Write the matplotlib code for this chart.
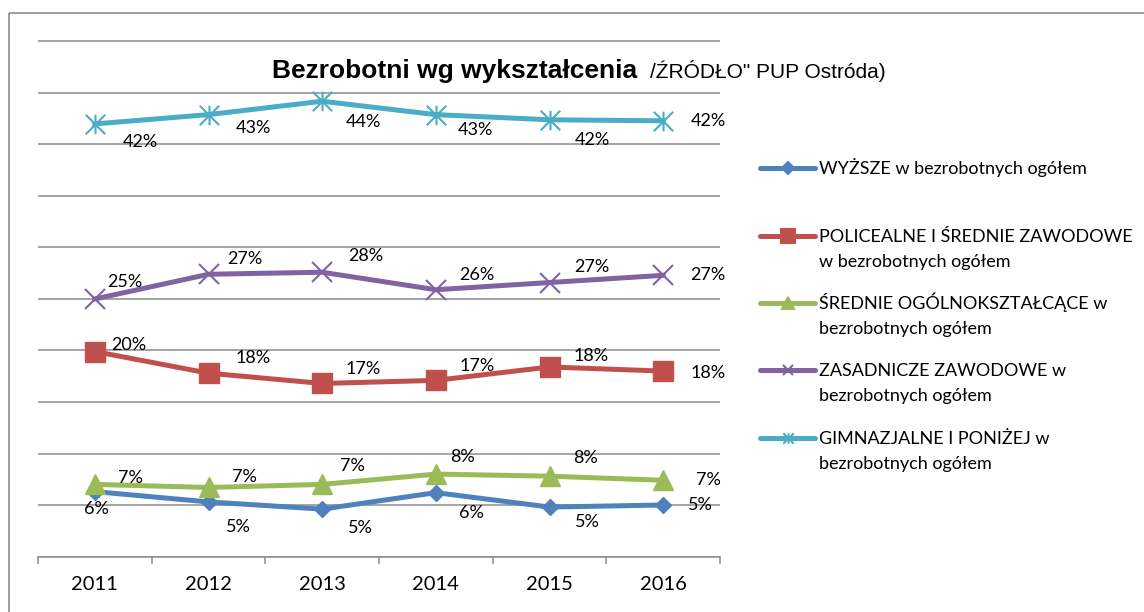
import matplotlib as mpl

mpl.use("Agg")
import matplotlib.pyplot as plt
import numpy as np
from matplotlib.patches import Rectangle
from matplotlib.path import Path

# --- data (% of all unemployed) ---
YEARS = ["2011", "2012", "2013", "2014", "2015", "2016"]
WYZSZE = [6.3, 5.3, 4.6, 6.2, 4.8, 5.0]
POLICEALNE = [19.9, 17.8, 16.8, 17.1, 18.4, 18.0]
SREDNIE_OGOLNE = [7.0, 6.7, 7.0, 8.0, 7.8, 7.4]
ZASADNICZE = [25.0, 27.4, 27.6, 25.9, 26.6, 27.3]
GIMNAZJALNE = [42.0, 42.9, 44.2, 42.9, 42.4, 42.3]

NAMES = [
    ["WYŻSZE w bezrobotnych ogółem"],
    ["POLICEALNE I ŚREDNIE ZAWODOWE", "w bezrobotnych ogółem"],
    ["ŚREDNIE OGÓLNOKSZTAŁCĄCE w", "bezrobotnych ogółem"],
    ["ZASADNICZE ZAWODOWE w", "bezrobotnych ogółem"],
    ["GIMNAZJALNE I PONIŻEJ w", "bezrobotnych ogółem"],
]

TITLE = "Bezrobotni wg wykształcenia"
SUBTITLE = "/ŹRÓDŁO\" PUP Ostróda)"

# --- style ---
W, H = 1144, 612
GRID = "#8c8c8c"
STAR = Path(
    [(-0.5, -0.5), (0.5, 0.5), (-0.5, 0.5), (0.5, -0.5), (0, -0.5), (0, 0.5)],
    [Path.MOVETO, Path.LINETO] * 3,
)
# colour, marker, marker size (plot / legend), filled?
STYLE = [
    ("#4F81BD", "D", 8.5, 6.0, True),
    ("#C0504D", "s", 14, 9.5, True),
    ("#9BBB59", "^", 14, 9.0, True),
    ("#8064A2", "x", 14, 7.5, False),
    ("#4BACC6", STAR, 14, 7.5, False),
]
# label offsets from the point, in pixels (dx right, dy down)
OFFSETS = [
    [(2, 17), (30, 25), (38, 19), (36, 20), (38, 15), (37, 0)],
    [(34, -7), (45, -15), (41, -14), (41, -14), (42, -11), (45, 2)],
    [(36, -6), (36, -10), (30, -18), (27, -17), (36, -18), (45, 0)],
    [(30, -17), (36, -15), (44, -16), (41, -15), (42, -16), (45, 0)],
    [(46, 18), (45, 13), (41, 21), (40, 15), (43, 20), (45, 0)],
]
LEGEND_Y = [167.7, 235.7, 303, 370, 437.7]

plt.rcParams["font.family"] = ["Lato", "DejaVu Sans"]

fig = plt.figure(figsize=(W / 100, H / 100), dpi=100, facecolor="white")

# pixel-space overlay for frame, title and legend
lax = fig.add_axes([0, 0, 1, 1])
lax.set_xlim(0, W)
lax.set_ylim(H, 0)
lax.axis("off")
lax.add_patch(Rectangle((8.5, 13), 1400, 900, fill=False, edgecolor=GRID, lw=1.2))
lax.text(272, 78, TITLE, family="Liberation Sans", weight="bold", fontsize=19, va="baseline")
lax.text(650, 78, SUBTITLE, family="Liberation Sans", fontsize=15, va="baseline")

y0_px, y50_px = 556.5, 41.5
ppp = (y0_px - y50_px) / 50
ymax = 50.5
ax = fig.add_axes([38 / W, 1 - y0_px / H, (720 - 38) / W, (ymax * ppp) / H])
ax.set_facecolor("none")

series = [WYZSZE, POLICEALNE, SREDNIE_OGOLNE, ZASADNICZE, GIMNAZJALNE]
x = np.arange(len(YEARS))
for vals, (col, mk, ms, _, filled), offs in zip(series, STYLE, OFFSETS):
    ax.plot(
        x, vals, color=col, lw=3.6, marker=mk, ms=ms,
        markerfacecolor=col if filled else "none", markeredgecolor=col,
        markeredgewidth=1.0 if filled else 1.5, solid_joinstyle="round",
        clip_on=False, zorder=3,
    )
    for xi, v, (dx, dy) in zip(x, vals, offs):
        ax.annotate(f"{int(v + 0.5)}%", (xi, v), xytext=(dx, -dy), textcoords="offset pixels",
                    ha="center", va="center", fontsize=13, color="black", zorder=4)

ax.set_xlim(-0.5, len(YEARS) - 0.5)
ax.set_ylim(0, ymax)
ax.set_yticks(np.arange(0, 51, 5))
ax.yaxis.grid(True, color=GRID, lw=1.1)
ax.set_axisbelow(True)
ax.tick_params(axis="y", length=0, labelleft=False)
ax.set_xticks(x, YEARS)
ax.set_xticks(np.arange(-0.5, len(YEARS), 1), minor=True)
ax.tick_params(axis="x", which="major", length=0, pad=14, labelsize=14.5, labelcolor="black")
ax.tick_params(axis="x", which="minor", length=5, width=1.1, color=GRID, direction="out")
for side in ("left", "top", "right"):
    ax.spines[side].set_visible(False)
ax.spines["bottom"].set_color(GRID)
ax.spines["bottom"].set_linewidth(1.1)

# legend, drawn by hand in pixel space
for (col, mk, _, lms, filled), lines, y in zip(STYLE, NAMES, LEGEND_Y):
    lax.plot([760, 815], [y, y], color=col, lw=3.6, solid_capstyle="round")
    lax.plot([787.5], [y], marker=mk, ms=lms, color=col,
             markerfacecolor=col if filled else "none", markeredgecolor=col, markeredgewidth=1.5)
    for i, line in enumerate(lines):
        lax.text(819, y + 6.3 + 25 * i, line, fontsize=13, va="baseline", color="black")

fig.savefig("out.png", dpi=100, facecolor="white")
